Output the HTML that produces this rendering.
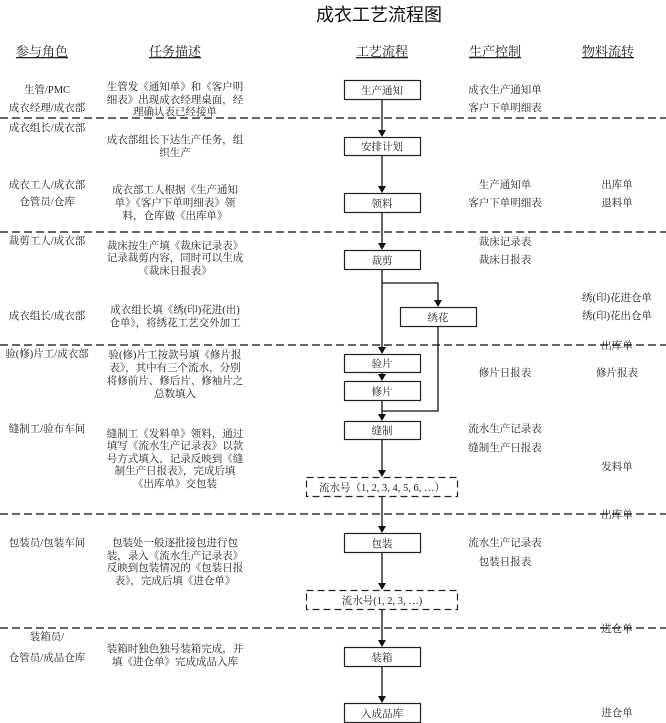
<!DOCTYPE html>
<html><head><meta charset="utf-8"><style>
html,body{margin:0;padding:0;background:#fff;}
svg{display:block;}
text{font-family:"Liberation Serif","Noto Serif CJK SC",serif;font-size:10.5px;fill:#222;}
.c{text-anchor:middle;}
.h{font-size:13px;text-decoration:underline;}
.t{font-family:"Liberation Sans","Noto Sans CJK SC",sans-serif;font-size:18px;fill:#111;}
</style></head><body>
<svg width="666" height="723" viewBox="0 0 666 723" xmlns="http://www.w3.org/2000/svg">
<defs><marker id="a" markerWidth="8" markerHeight="8" refX="4" refY="8" orient="auto" markerUnits="userSpaceOnUse"><path d="M0,0 L8,0 L4,8 z" fill="#111" transform="rotate(-90 4 4)"/></marker></defs>
<text class="t" x="316" y="21">成衣工艺流程图</text>
<text class="h c" x="42" y="56">参与角色</text>
<text class="h c" x="175" y="56">任务描述</text>
<text class="h c" x="382" y="56">工艺流程</text>
<text class="h c" x="495" y="56">生产控制</text>
<text class="h c" x="608" y="56">物料流转</text>

<g stroke="#333" stroke-width="1.5" stroke-dasharray="8,4" fill="none">
<line x1="0" y1="118" x2="666" y2="118"/>
<line x1="0" y1="232" x2="666" y2="232"/>
<line x1="0" y1="345" x2="666" y2="345"/>
<line x1="0" y1="514" x2="666" y2="514"/>
<line x1="0" y1="628" x2="666" y2="628"/>
</g>

<!-- connectors -->
<g stroke="#111" stroke-width="1.3" fill="none">
<line x1="382" y1="99" x2="382" y2="130"/>
<line x1="382" y1="155" x2="382" y2="186"/>
<line x1="382" y1="212" x2="382" y2="243"/>
<line x1="382" y1="269" x2="382" y2="347"/>
<polyline points="382,283 438,283 438,300"/>
<line x1="382" y1="372" x2="382" y2="374"/>
<polyline points="438,326 438,411 382,411"/>
<line x1="382" y1="400" x2="382" y2="414"/>
<line x1="382" y1="438" x2="382" y2="470"/>
<line x1="382" y1="496" x2="382" y2="526"/>
<line x1="382" y1="552" x2="382" y2="583"/>
<line x1="382" y1="609" x2="382" y2="640"/>
<line x1="382" y1="666" x2="382" y2="696"/>
</g>
<g fill="#111">
<path d="M378,130 L386,130 L382,137 z"/>
<path d="M378,186 L386,186 L382,193 z"/>
<path d="M378,243 L386,243 L382,250 z"/>
<path d="M434,300 L442,300 L438,307 z"/>
<path d="M378,347 L386,347 L382,354 z"/>
<path d="M378,374 L386,374 L382,381 z"/>
<path d="M378,414 L386,414 L382,421 z"/>
<path d="M378,470 L386,470 L382,477 z"/>
<path d="M378,526 L386,526 L382,533 z"/>
<path d="M378,583 L386,583 L382,590 z"/>
<path d="M378,640 L386,640 L382,647 z"/>
<path d="M378,696 L386,696 L382,703 z"/>
</g>

<!-- boxes -->
<g fill="#fff" stroke="#222" stroke-width="1.2">
<rect x="344.5" y="80.5" width="76" height="19"/>
<rect x="344.5" y="137.5" width="76" height="18"/>
<rect x="344.5" y="193.5" width="76" height="19"/>
<rect x="344.5" y="250.5" width="76" height="19"/>
<rect x="400.5" y="307.5" width="76" height="19"/>
<rect x="344.5" y="354.5" width="76" height="18"/>
<rect x="344.5" y="381.5" width="76" height="19"/>
<rect x="344.5" y="421.5" width="76" height="18"/>
<rect x="344.5" y="533.5" width="76" height="19"/>
<rect x="344.5" y="647.5" width="76" height="19"/>
<rect x="344.5" y="703.5" width="76" height="19"/>
<rect x="306.5" y="477.5" width="151" height="19" stroke-dasharray="7,4"/>
<rect x="306.5" y="590.5" width="151" height="19" stroke-dasharray="7,4"/>
</g>
<g class="c">
<text class="c" x="382" y="94">生产通知</text>
<text class="c" x="382" y="150">安排计划</text>
<text class="c" x="382" y="207">领料</text>
<text class="c" x="382" y="264">裁剪</text>
<text class="c" x="438" y="321">绣花</text>
<text class="c" x="382" y="367">验片</text>
<text class="c" x="382" y="395">修片</text>
<text class="c" x="382" y="434">缝制</text>
<text class="c" x="382" y="491">流水号（1, 2, 3, 4, 5, 6, …）</text>
<text class="c" x="382" y="547">包装</text>
<text class="c" x="382" y="604">流水号(1, 2, 3, …)</text>
<text class="c" x="382" y="661">装箱</text>
<text class="c" x="382" y="717">入成品库</text>
</g>

<!-- roles -->
<text class="c" x="47" y="93">生管/PMC</text>
<text class="c" x="47" y="111">成衣经理/成衣部</text>
<text class="c" x="47" y="131">成衣组长/成衣部</text>
<text class="c" x="47" y="188">成衣工人/成衣部</text>
<text class="c" x="47" y="205">仓管员/仓库</text>
<text class="c" x="47" y="244">裁剪工人/成衣部</text>
<text class="c" x="47" y="319">成衣组长/成衣部</text>
<text class="c" x="47" y="357">验(修)片工/成衣部</text>
<text class="c" x="47" y="432">缝制工/验布车间</text>
<text class="c" x="47" y="546">包装员/包装车间</text>
<text class="c" x="47" y="640">装箱员/</text>
<text class="c" x="47" y="661">仓管员/成品仓库</text>

<!-- tasks -->
<text class="c" x="175" y="90">生管发《通知单》和《客户明</text>
<text class="c" x="175" y="103">细表》出现成衣经理桌面，经</text>
<text class="c" x="175" y="115">理确认表已经接单</text>
<text class="c" x="175" y="143">成衣部组长下达生产任务，组</text>
<text class="c" x="175" y="156">织生产</text>
<text class="c" x="175" y="193">成衣部工人根据《生产通知</text>
<text class="c" x="175" y="206">单》《客户下单明细表》领</text>
<text class="c" x="175" y="219">料，仓库做《出库单》</text>
<text class="c" x="175" y="249">裁床按生产填《裁床记录表》</text>
<text class="c" x="175" y="261">记录裁剪内容，同时可以生成</text>
<text class="c" x="175" y="274">《裁床日报表》</text>
<text class="c" x="175" y="313">成衣组长填《绣(印)花进(出)</text>
<text class="c" x="175" y="326">仓单》，将绣花工艺交外加工</text>
<text class="c" x="175" y="358">验(修)片工按款号填《修片报</text>
<text class="c" x="175" y="371">表》，其中有三个流水，分别</text>
<text class="c" x="175" y="384">将修前片、修后片、修袖片之</text>
<text class="c" x="175" y="397">总数填入</text>
<text class="c" x="175" y="437">缝制工《发料单》领料，通过</text>
<text class="c" x="175" y="449">填写《流水生产记录表》以款</text>
<text class="c" x="175" y="462">号方式填入，记录反映到《缝</text>
<text class="c" x="175" y="474">制生产日报表》，完成后填</text>
<text class="c" x="175" y="487">《出库单》交包装</text>
<text class="c" x="175" y="546">包装处一般逐批接包进行包</text>
<text class="c" x="175" y="559">装，录入《流水生产记录表》</text>
<text class="c" x="175" y="571">反映到包装情况的《包装日报</text>
<text class="c" x="175" y="584">表》，完成后填《进仓单》</text>
<text class="c" x="175" y="652">装箱时独色独号装箱完成，并</text>
<text class="c" x="175" y="665">填《进仓单》完成成品入库</text>

<!-- control -->
<text class="c" x="505" y="93">成衣生产通知单</text>
<text class="c" x="505" y="111">客户下单明细表</text>
<text class="c" x="505" y="188">生产通知单</text>
<text class="c" x="505" y="206">客户下单明细表</text>
<text class="c" x="505" y="245">裁床记录表</text>
<text class="c" x="505" y="263">裁床日报表</text>
<text class="c" x="505" y="376">修片日报表</text>
<text class="c" x="505" y="432">流水生产记录表</text>
<text class="c" x="505" y="451">缝制生产日报表</text>
<text class="c" x="505" y="546">流水生产记录表</text>
<text class="c" x="505" y="565">包装日报表</text>

<!-- material -->
<text class="c" x="617" y="188">出库单</text>
<text class="c" x="617" y="206">退料单</text>
<text class="c" x="617" y="301">绣(印)花进仓单</text>
<text class="c" x="617" y="319">绣(印)花出仓单</text>
<text class="c" x="617" y="349">出库单</text>
<text class="c" x="617" y="376">修片报表</text>
<text class="c" x="617" y="470">发料单</text>
<text class="c" x="617" y="518">出库单</text>
<text class="c" x="617" y="632">进仓单</text>
<text class="c" x="617" y="716">进仓单</text>
</svg>
</body></html>
